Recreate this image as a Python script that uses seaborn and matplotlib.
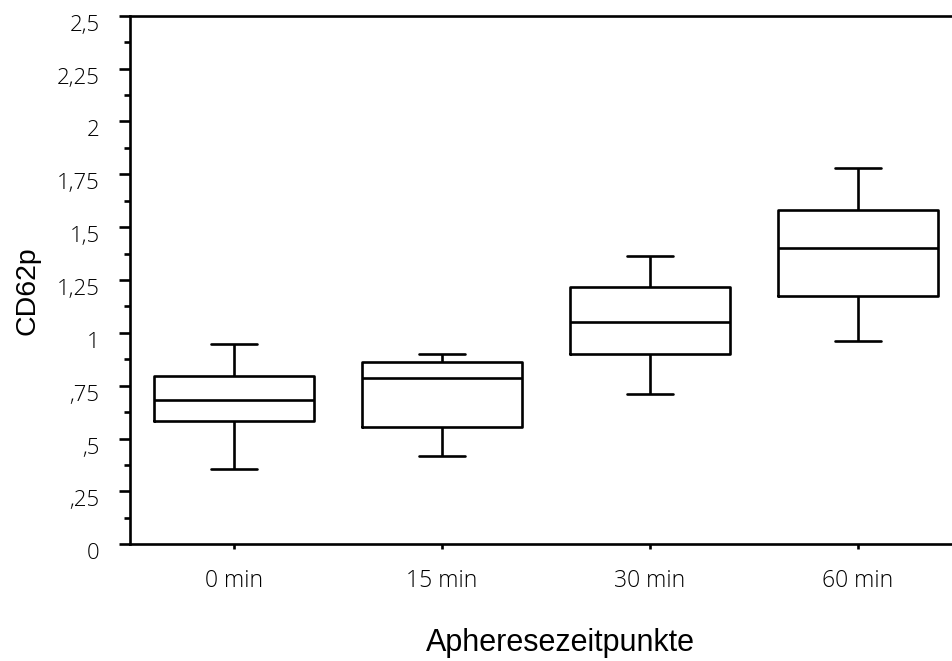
import numpy as np
import pandas as pd
import matplotlib
matplotlib.use("Agg")
import matplotlib.pyplot as plt
import matplotlib.transforms as mtransforms
from matplotlib.ticker import MultipleLocator, FixedLocator
import seaborn as sns

# ---- data (five-number summaries) ----
categories = ["0 min", "15 min", "30 min", "60 min"]
whisker_low = [0.356, 0.418, 0.710, 0.962]
q1_values = [0.585, 0.556, 0.900, 1.176]
medians = [0.683, 0.785, 1.050, 1.402]
q3_values = [0.798, 0.861, 1.216, 1.580]
whisker_high = [0.947, 0.899, 1.364, 1.781]

y_tick_values = [0, 0.25, 0.5, 0.75, 1.0, 1.25, 1.5, 1.75, 2.0, 2.25, 2.5]
y_tick_labels = ["0", ",25", ",5", ",75", "1", "1,25", "1,5", "1,75", "2", "2,25", "2,5"]

x_label = "Apheresezeitpunkte"
y_label = "CD62p"

rows = []
for cat, lo, a, m, b, hi in zip(categories, whisker_low, q1_values, medians, q3_values, whisker_high):
    for v in (lo, a, m, b, hi):
        rows.append({"time": cat, "value": v})
df = pd.DataFrame(rows)

sns.set_style("white")
plt.rcParams["font.family"] = ["Open Sans", "DejaVu Sans"]
plt.rcParams["text.color"] = "black"
plt.rcParams["xtick.color"] = "black"
plt.rcParams["ytick.color"] = "black"
plt.rcParams["axes.labelcolor"] = "black"

fig = plt.figure(figsize=(9.53, 6.61), dpi=100)
ax = fig.add_axes([130 / 953, 1 - 544.3 / 661, 832 / 953, (544.3 - 15.7) / 661])

lw = 1.9
sns.boxplot(data=df, x="time", y="value", order=categories, ax=ax,
            whis=(0, 100), width=0.77, fill=False, color="black",
            linewidth=lw, capwidths=0.225, showfliers=False)

ax.set_xlim(-0.5, 3.5)
ax.set_ylim(0, 2.5)
ax.yaxis.set_major_locator(FixedLocator(y_tick_values))
ax.set_yticklabels(y_tick_labels)
ax.yaxis.set_minor_locator(MultipleLocator(0.125))

for s in ["left", "bottom", "top"]:
    ax.spines[s].set_visible(True)
    ax.spines[s].set_color("black")
    ax.spines[s].set_linewidth(lw)
ax.spines["right"].set_visible(False)

ax.tick_params(axis="y", which="major", direction="out", length=8, width=lw,
               color="black", labelcolor="black", labelsize=16, pad=14, left=True)
ax.tick_params(axis="y", which="minor", direction="out", length=4.3, width=lw,
               color="black", left=True)
ax.tick_params(axis="x", which="major", direction="out", length=3.6, width=lw,
               color="black", labelcolor="black", labelsize=16.5, pad=14, bottom=True)

for lab in ax.get_yticklabels() + ax.get_xticklabels():
    lab.set_fontweight("light")

offset = mtransforms.ScaledTranslation(0, -7 / 100, fig.dpi_scale_trans)
for lab in ax.get_yticklabels():
    lab.set_transform(lab.get_transform() + offset)

ax.set_xlabel("")
ax.set_ylabel("")
fig.text(560 / 953, 1 - 643 / 661, x_label, ha="center", va="center", color="black",
         fontsize=22, family=["Liberation Sans", "DejaVu Sans"])
fig.text(28 / 953, 1 - 291 / 661, y_label, ha="center", va="center", rotation=90,
         color="black", fontsize=20.5, family=["Liberation Sans", "DejaVu Sans"])

fig.savefig("out.png", dpi=100)
